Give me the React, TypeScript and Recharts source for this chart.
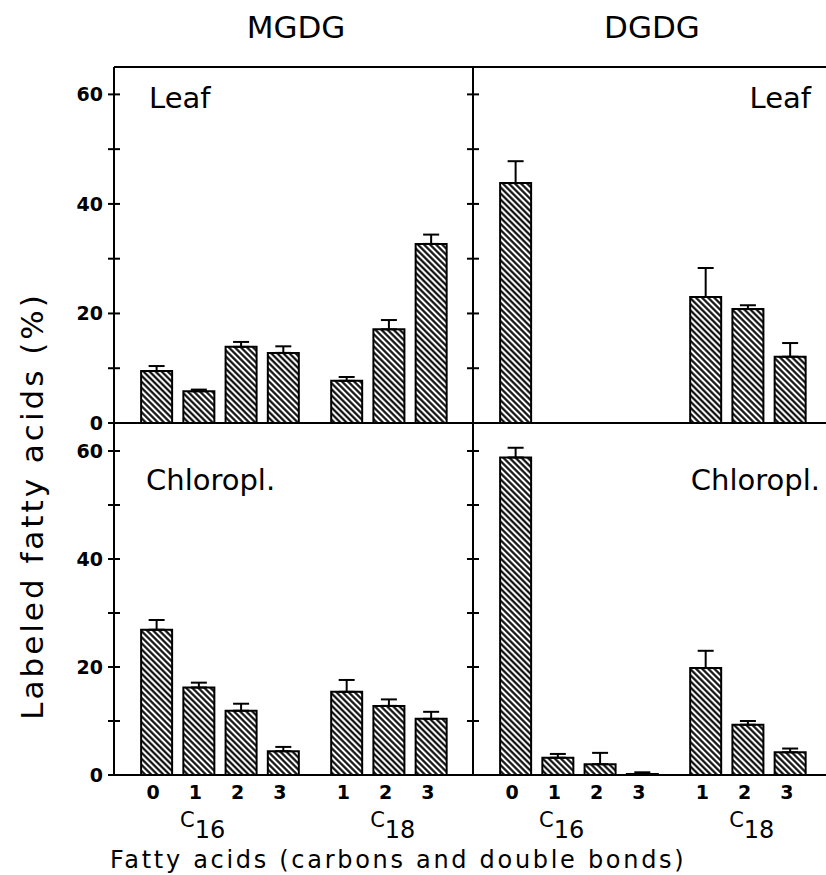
import React from "react";
import { BarChart, Bar, XAxis, YAxis, ErrorBar, ReferenceLine } from "recharts";

// bar slots: C16 0..3, a half slot gap, then C18 1..3
const positions = [1, 2, 3, 4, 5.5, 6.5, 7.5];
const doubleBonds = ["0", "1", "2", "3", "1", "2", "3"];
const carbonGroups = ["16", "18"];
const carbonGroupPos = [2.1, 6.6];
const yTicks = [0, 10, 20, 30, 40, 50, 60];

const mgdgLeaf = [9.5, 5.8, 13.9, 12.8, 7.7, 17.1, 32.7];
const mgdgLeafErr = [0.9, 0.3, 0.9, 1.2, 0.7, 1.7, 1.7];
const dgdgLeaf = [43.8, null, null, null, 23.0, 20.8, 12.1];
const dgdgLeafErr = [4.0, null, null, null, 5.3, 0.7, 2.5];
const mgdgChloropl = [26.9, 16.2, 11.9, 4.4, 15.4, 12.8, 10.4];
const mgdgChloroplErr = [1.8, 0.9, 1.3, 0.8, 2.2, 1.2, 1.3];
const dgdgChloropl = [58.8, 3.2, 2.0, 0.2, 19.8, 9.3, 4.2];
const dgdgChloroplErr = [1.8, 0.7, 2.1, 0.3, 3.2, 0.7, 0.7];

const build = (vals: (number | null)[], errs: (number | null)[]) =>
  positions.map((pos, i) => ({
    pos,
    value: vals[i],
    err: errs[i] == null ? null : [0, errs[i]],
  }));

const PANEL_W = 359;

const makeYTick = (showLabel: boolean) => (props: any) => {
  const { x, y, payload } = props;
  return (
    <g>
      <line x1={x - 6} x2={x + 6} y1={y} y2={y} stroke="#000" strokeWidth={2} />
      {showLabel && payload.value % 20 === 0 ? (
        <text x={x - 11} y={y + 7} textAnchor="end" fontWeight="bold" fontSize={19} fill="#000">
          {payload.value}
        </text>
      ) : null}
    </g>
  );
};

const BondTick = (props: any) => {
  const { x, y, payload } = props;
  const i = positions.indexOf(payload.value);
  return (
    <text x={x - 3} y={y + 24} textAnchor="middle" fontWeight="bold" fontSize={19} fill="#000">
      {doubleBonds[i]}
    </text>
  );
};

const CarbonTick = (props: any) => {
  const { x, y, payload } = props;
  const i = carbonGroupPos.indexOf(payload.value);
  return (
    <text x={x} y={y + 22} textAnchor="middle" fill="#000">
      <tspan fontSize={21}>C</tspan>
      <tspan fontSize={24} dy={11}>{carbonGroups[i]}</tspan>
    </text>
  );
};

type PanelProps = {
  vals: (number | null)[];
  errs: (number | null)[];
  isLeft: boolean;
  isTop: boolean;
};

const Panel = ({ vals, errs, isLeft, isTop }: PanelProps) => {
  const data = build(vals, errs);
  const plotLeft = isLeft ? 114 : 473;
  const plotTop = isTop ? 67 : 424;
  const width = plotLeft + PANEL_W + 8;
  const height = isTop ? 440 : 875;
  return (
    <div style={{ position: "absolute", left: 0, top: 0 }}>
      <BarChart
        width={width}
        height={height}
        data={data}
        margin={{ top: plotTop, right: 8, left: 0, bottom: isTop ? 17 : 30 }}
      >
        <XAxis
          type="number"
          dataKey="pos"
          domain={[0, 8.5]}
          allowDataOverflow
          hide={isTop}
          ticks={positions}
          interval={0}
          height={30}
          tickSize={0}
          tickMargin={0}
          tickLine={false}
          axisLine={{ stroke: "#000", strokeWidth: 2 }}
          tick={BondTick}
        />
        {!isTop && (
          <XAxis
            xAxisId="carbons"
            type="number"
            dataKey="pos"
            domain={[0, 8.5]}
            allowDataOverflow
            ticks={carbonGroupPos}
            interval={0}
            height={40}
            tickSize={0}
            tickMargin={0}
            tickLine={false}
            axisLine={false}
            tick={CarbonTick}
          />
        )}
        <YAxis
          width={plotLeft}
          domain={[0, 65]}
          ticks={yTicks}
          interval={0}
          tickSize={0}
          tickMargin={0}
          tickLine={false}
          axisLine={{ stroke: "#000", strokeWidth: 2 }}
          tick={makeYTick(isLeft)}
        />
        {isTop && <ReferenceLine y={65} stroke="#000" strokeWidth={2} />}
        {isTop && <ReferenceLine y={0} stroke="#000" strokeWidth={2} />}
        <Bar
          dataKey="value"
          barSize={31}
          fill="url(#hatch)"
          stroke="#000"
          strokeWidth={2}
          isAnimationActive={false}
        >
          <ErrorBar dataKey="err" direction="y" width={8} stroke="#000" strokeWidth={2} />
        </Bar>
      </BarChart>
    </div>
  );
};

export default function App() {
  return (
    <div
      style={{
        position: "absolute",
        left: 0,
        top: 0,
        width: 826,
        height: 875,
        overflow: "hidden",
        background: "#fff",
        fontFamily: "'DejaVu Sans', sans-serif",
      }}
    >
      <Panel vals={mgdgLeaf} errs={mgdgLeafErr} isLeft isTop />
      <Panel vals={dgdgLeaf} errs={dgdgLeafErr} isLeft={false} isTop />
      <Panel vals={mgdgChloropl} errs={mgdgChloroplErr} isLeft isTop={false} />
      <Panel vals={dgdgChloropl} errs={dgdgChloroplErr} isLeft={false} isTop={false} />
      <svg
        width={826}
        height={875}
        style={{ position: "absolute", left: 0, top: 0, pointerEvents: "none" }}
      >
        <defs>
          <pattern id="hatch" patternUnits="userSpaceOnUse" width={4.3} height={4.3} patternTransform="rotate(-45)">
            <rect width={4.3} height={4.3} fill="#fff" />
            <line x1={2.15} y1={-1} x2={2.15} y2={5.3} stroke="#000" strokeWidth={2.1} />
          </pattern>
        </defs>
        <text x={296} y={38} textAnchor="middle" fontSize={31}>MGDG</text>
        <text x={652} y={38} textAnchor="middle" fontSize={31}>DGDG</text>
        <text x={149} y={108} fontSize={29}>Leaf</text>
        <text x={811} y={108} textAnchor="end" fontSize={29}>Leaf</text>
        <text x={146} y={490} fontSize={29}>Chloropl.</text>
        <text x={820} y={490} textAnchor="end" fontSize={29}>Chloropl.</text>
        <text
          transform="translate(43, 506) rotate(-90)"
          textAnchor="middle"
          fontSize={31}
          letterSpacing={3}
        >
          Labeled fatty acids (%)
        </text>
        <text x={110} y={868} fontSize={24} letterSpacing={2.7}>
          Fatty acids (carbons and double bonds)
        </text>
      </svg>
    </div>
  );
}
